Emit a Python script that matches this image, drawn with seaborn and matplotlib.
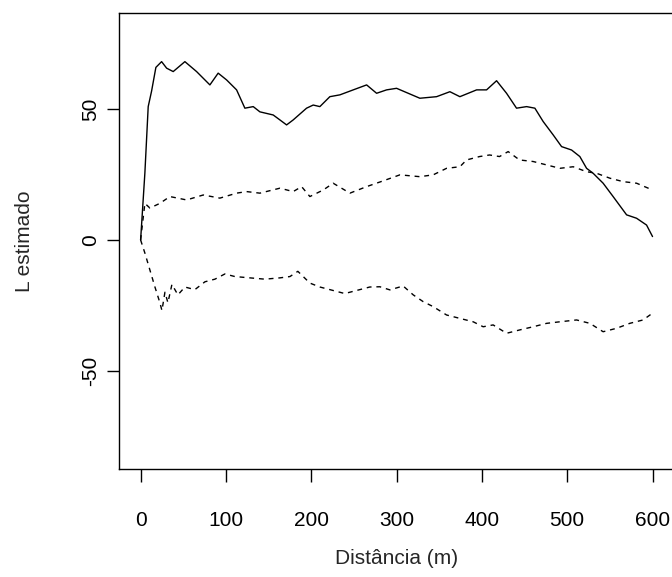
import matplotlib
matplotlib.use("Agg")
import matplotlib.pyplot as plt
import numpy as np
import pandas as pd
import seaborn as sns

# L estimado observado (linha cheia)
dist_obs = [0, 5, 8.9, 12.9, 17.9, 24.6, 30.5, 38.2, 51.9, 65.6, 81.2, 90.9, 100.8,
            112.5, 122.2, 132, 139.8, 155.4, 163.3, 171.1, 178.8, 194.5, 202.3, 210.1,
            221.8, 233.6, 249.2, 264.9, 276.6, 288.3, 300, 327.3, 346.9, 362.5, 374.2,
            393.8, 405.5, 417.2, 428.9, 440.6, 452.4, 462.1, 471.8, 483.5, 493.4, 505.1,
            514.8, 522.7, 530.4, 542.1, 553.8, 569.6, 581.3, 593, 600]
l_obs = [0, 25.6, 51, 57, 66, 68.2, 65.7, 64.4, 68.2, 64.4, 59.3, 63.8, 61.2,
         57.4, 50.4, 51, 49, 47.8, 45.9, 44, 45.9, 50.4, 51.6, 51,
         54.8, 55.5, 57.4, 59.3, 56.1, 57.4, 58, 54.2, 54.8, 56.7, 54.8,
         57.4, 57.4, 60.9, 56.1, 50.4, 51, 50.4, 45.3, 40.2, 35.7, 34.4,
         31.9, 27.4, 25.5, 21.7, 16.6, 9.6, 8.3, 5.7, 1.3]

# envelope superior (tracejada)
dist_sup = [0, 5, 10.9, 22.6, 34.3, 53.9, 73.4, 92.9, 112.5, 124.2, 139.8, 163.3,
            178.8, 188.7, 198.4, 214, 225.7, 245.3, 264.9, 284.3, 303.9, 327.3, 342.9,
            358.6, 374.2, 382, 397.3, 409, 420.7, 430.8, 444.1, 460.1, 475.8, 491.4,
            507, 522.7, 534.4, 550.2, 565.6, 581.3, 600]
l_sup = [0, 14, 12.2, 14, 16.6, 15.3, 17.2, 16, 17.9, 18.5, 17.9, 19.8,
         18.5, 20.4, 16.6, 19.1, 21.7, 17.9, 20.4, 22.6, 24.9, 24.2, 24.9,
         27.4, 28, 30.6, 31.9, 32.5, 31.9, 33.8, 30.6, 30, 28.7, 27.4,
         28, 26.1, 25.5, 23.6, 22.3, 21.7, 19.1]

# envelope inferior (tracejada)
dist_inf = [0, 5, 10.9, 16.8, 22.6, 25, 28.5, 32, 36.7, 43.7, 51.9, 63.6, 75.4,
            87.1, 98.8, 110.5, 128, 145.7, 163.3, 175, 184.3, 198.4, 210.1, 221.8,
            239.3, 256.9, 268.6, 280.4, 292.2, 307.7, 319.5, 331.2, 342.9, 358.6,
            374.2, 389.8, 401.5, 413.2, 428.9, 444.5, 460.1, 475.8, 491.4, 511,
            526.6, 542.1, 557.8, 573.3, 588.9, 600]
l_inf = [0, -5, -11.5, -18, -24, -27, -20, -24, -17, -21, -18, -19, -16,
         -15, -13, -14, -14.5, -15, -14.5, -14, -12, -16.5, -18, -19,
         -20.5, -19, -18, -17.9, -19.1, -17.6, -21, -23.6, -25.5, -28.7,
         -30, -31.3, -33.2, -32.5, -35.7, -34.4, -33.2, -31.9, -31.3, -30.6,
         -31.9, -35.1, -33.8, -31.9, -30.6, -28]

x_ticks = [0, 100, 200, 300, 400, 500, 600]
y_ticks = [-50, 0, 50]

sns.set_style("ticks")
plt.rcParams['font.family'] = ['Liberation Sans', 'DejaVu Sans']

fig = plt.figure(figsize=(6.72, 5.77), dpi=100)
ax = fig.add_axes([0.1775, 0.1872, 0.824, 0.7898])

sns.lineplot(x=dist_obs, y=l_obs, color="black", linewidth=1.0, ax=ax)
sns.lineplot(x=dist_sup, y=l_sup, color="black", linewidth=1.0, ax=ax).lines[-1].set_dashes((3.5, 3.5))
sns.lineplot(x=dist_inf, y=l_inf, color="black", linewidth=1.0, ax=ax).lines[-1].set_dashes((3.5, 3.5))

ax.set_xlim(-25, 624)
ax.set_ylim(-87.6, 86.7)
ax.set_xticks(x_ticks)
ax.set_yticks(y_ticks)
ax.set_yticklabels([str(v) for v in y_ticks], rotation=90, va="center")
ax.tick_params(axis="both", direction="out", length=9, width=1, color="black",
               labelsize=15, labelcolor="black")
ax.tick_params(axis="x", pad=21)
ax.tick_params(axis="y", pad=5)
for s in ax.spines.values():
    s.set_visible(True)
    s.set_linewidth(1)
    s.set_color("black")

ax.set_xlabel("Distância (m)", fontsize=15, labelpad=14)
ax.set_ylabel("L estimado", fontsize=15, labelpad=34)

fig.savefig("out.png", dpi=100)
